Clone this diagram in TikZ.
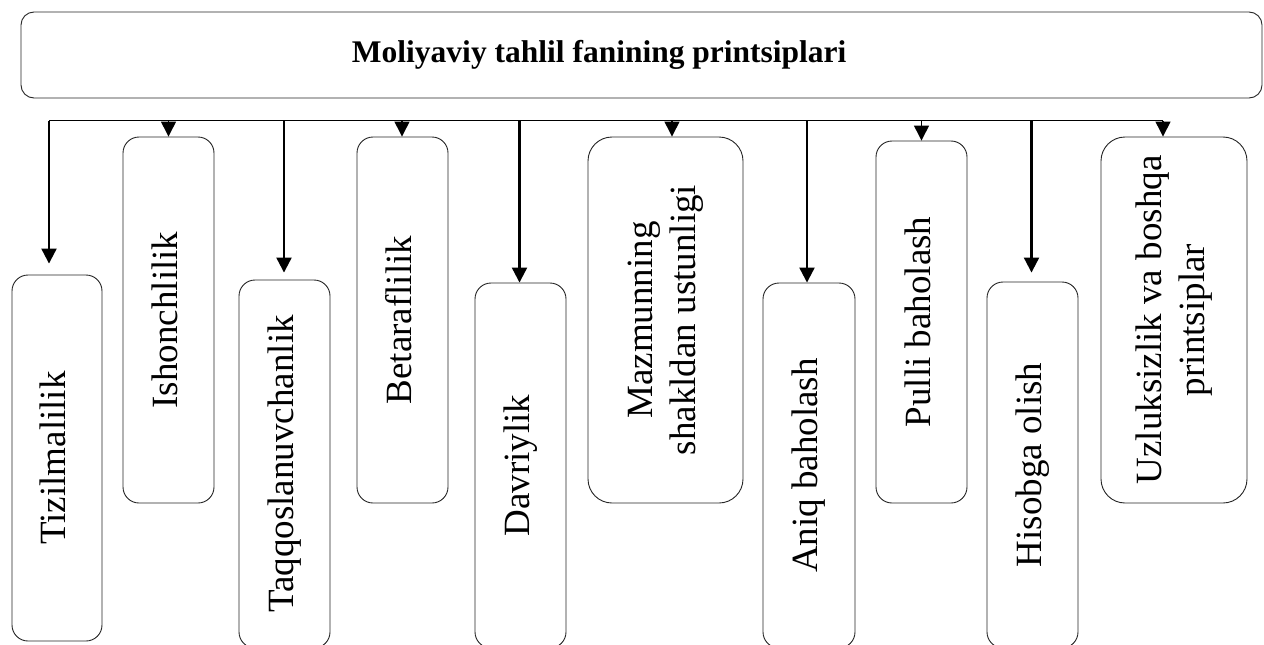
\documentclass[tikz,border=0pt]{standalone}
\usepackage{fontspec}
\setmainfont{Liberation Serif}
\usetikzlibrary{arrows.meta}
\tikzset{
  pbox/.style={draw=black!85, line width=0.9pt, rounded corners=16pt, inner sep=0pt, align=center, font=\fontsize{37}{43}\selectfont},
  wbox/.style={pbox, rounded corners=24pt},
  tbox/.style={draw=black!85, line width=0.9pt, rounded corners=13pt, inner sep=0pt, font=\fontsize{31.5}{36}\selectfont\bfseries},
  bar/.style={line width=1.3pt},
  arr/.style={line width=2.2pt, -{Triangle[length=15pt,width=15pt]}},
  sarr/.style={line width=1.3pt, -{Triangle[length=15pt,width=15pt]}}
}
\newcommand{\vlab}[1]{\rotatebox{90}{\begin{tabular}{@{}c@{}}#1\end{tabular}}}
\begin{document}
\begin{tikzpicture}[x=1pt,y=-1pt]
\useasboundingbox[fill=white] (0,0) rectangle (1264,645);
\node[tbox, minimum width=1241pt, minimum height=86pt] (title) at (641.5,55) {\makebox[1241pt][l]{\hspace*{331pt}Moliyaviy tahlil fanining printsiplari}};
\node[pbox, minimum width=90pt, minimum height=366pt] (n1) at (57,458) {\vlab{Tizilmalilik}};
\node[pbox, minimum width=91pt, minimum height=366pt] (n2) at (168.5,320) {\vlab{Ishonchlilik}};
\node[pbox, minimum width=91pt, minimum height=368pt] (n3) at (284.5,464) {\vlab{Taqqoslanuvchanlik}};
\node[pbox, minimum width=91pt, minimum height=366pt] (n4) at (402.5,320) {\vlab{Betaraflilik}};
\node[pbox, minimum width=91pt, minimum height=365pt] (n5) at (520.5,465.5) {\vlab{Davriylik}};
\node[wbox, minimum width=155pt, minimum height=366pt] (n6) at (665.5,320) {\vlab{Mazmunning\\shakldan ustunligi}};
\node[pbox, minimum width=92pt, minimum height=365pt] (n7) at (809,465.5) {\vlab{Aniq baholash}};
\node[pbox, minimum width=91pt, minimum height=362pt] (n8) at (921.5,322) {\vlab{Pulli baholash}};
\node[pbox, minimum width=91pt, minimum height=366pt] (n9) at (1032.5,465) {\vlab{Hisobga olish}};
\node[wbox, minimum width=146pt, minimum height=366pt] (n10) at (1174,320) {\vlab{Uzluksizlik va boshqa\\printsiplar}};
\coordinate (b1) at (49,120.5);
\coordinate (b2) at (168.5,120.5);
\coordinate (b3) at (284,120.5);
\coordinate (b4) at (402,120.5);
\coordinate (b5) at (519.5,120.5);
\coordinate (b6) at (672,120.5);
\coordinate (b7) at (807,120.5);
\coordinate (b8) at (921.5,120.5);
\coordinate (b9) at (1031.5,120.5);
\coordinate (b10) at (1163,120.5);
\draw[bar] (b1) -- (b10);
\draw[arr, shorten >=11pt] (b1) -- (b1 |- n1.north);
\draw[sarr] (b2) -- (b2 |- n2.north);
\draw[arr, shorten >=7pt] (b3) -- (b3 |- n3.north);
\draw[sarr] (b4) -- (b4 |- n4.north);
\draw[arr] (b5) -- (b5 |- n5.north);
\draw[sarr] (b6) -- (b6 |- n6.north);
\draw[arr] (b7) -- (b7 |- n7.north);
\draw[sarr] (b8) -- (b8 |- n8.north);
\draw[arr, shorten >=9pt] (b9) -- (b9 |- n9.north);
\draw[sarr] (b10) -- (b10 |- n10.north);
\end{tikzpicture}
\end{document}
